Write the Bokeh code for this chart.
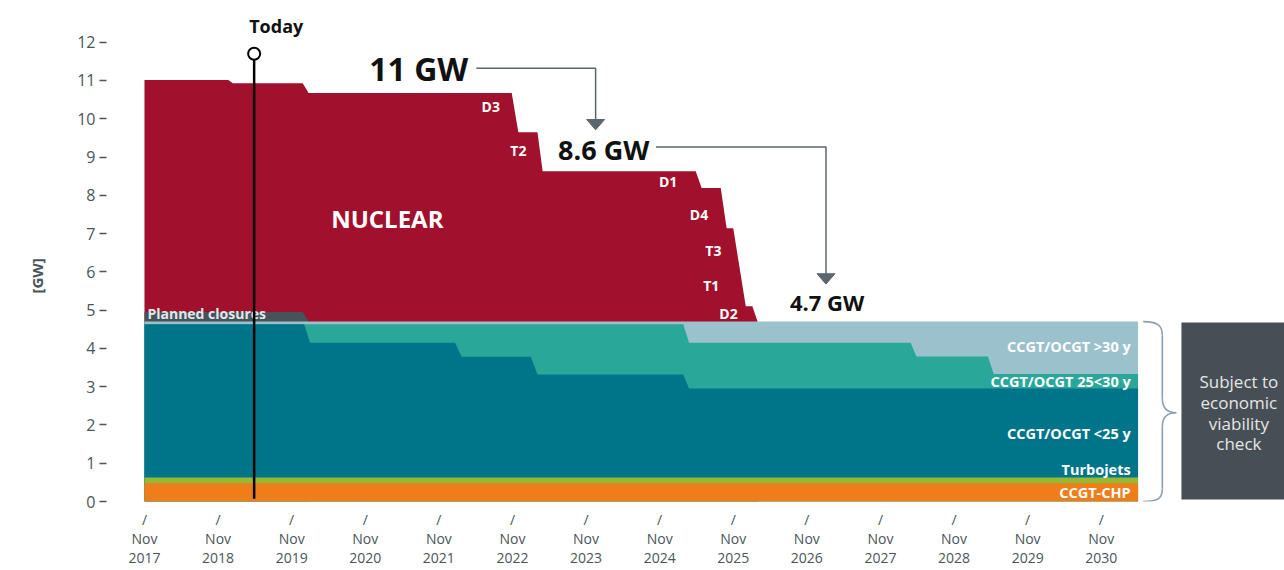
import numpy as np
from bokeh.plotting import figure
from bokeh.models import FixedTicker, Range1d, Title
from bokeh.core.properties import value
from bokeh.embed import file_html
from bokeh.resources import INLINE

# ---------------- data (x = years since Nov 2017, y = cumulative GW) ----------------
years = list(range(2017, 2031))
tick_pos = [y - 2017 for y in years]
tick_labels = [f"/\nNov\n{y}" for y in years]
y_ticks = list(range(0, 13))

nuclear_t = [0, 1.14, 1.20, 2.15, 2.23, 4.99, 5.08, 5.34, 5.41, 7.49, 7.57, 7.83, 7.91, 8.00, 8.17, 8.26, 8.33]
nuclear_top = [11.01, 11.01, 10.93, 10.93, 10.67, 10.67, 9.65, 9.65, 8.63, 8.63, 8.19, 8.19, 7.14, 7.14, 5.10, 5.10, 4.70]

closures_t = [0, 2.15, 2.23]
closures_top = [4.95, 4.95, 4.70]

old30_t = [0, 13.5]
old30_top = [4.70, 4.70]

mid_t = [0, 7.32, 7.40, 10.41, 10.49, 11.46, 11.54, 13.5]
mid_top = [4.63, 4.63, 4.15, 4.15, 3.79, 3.79, 3.33, 3.33]

young_t = [0, 2.17, 2.25, 4.22, 4.31, 5.25, 5.34, 7.32, 7.40, 13.5]
young_top = [4.63, 4.63, 4.15, 4.15, 3.78, 3.78, 3.32, 3.32, 2.95, 2.95]

turbo_t = [0, 13.5]
turbo_top = [0.625, 0.625]

chp_t = [0, 13.5]
chp_top = [0.48, 0.48]

reactor_names = ["D3", "T2", "D1", "D4", "T3", "T1", "D2"]
reactor_x = [4.83, 5.19, 7.24, 7.66, 7.84, 7.81, 8.06]
reactor_y = [10.31, 9.18, 8.36, 7.51, 6.55, 5.64, 4.90]

layer_names = ["CCGT/OCGT >30 y", "CCGT/OCGT 25<30 y", "CCGT/OCGT <25 y", "Turbojets", "CCGT-CHP"]
layer_y = [4.05, 3.14, 1.78, 0.83, 0.23]

today_t = 1.49

# ---------------- colours ----------------
C_NUC = "#a1102c"
C_CLOS = "#46535a"
C_OLD = "#9bc2cc"
C_MID = "#29a899"
C_YOUNG = "#00758a"
C_TURBO = "#95b932"
C_CHP = "#ee7d1a"
C_BOX = "#464f55"
C_AXIS = "#4a555c"
C_ARROW = "#5b666d"
C_BRACE = "#8ca0ae"
FONT = "Open Sans"

p = figure(width=1284, height=570,
           x_range=Range1d(-0.516, 15.49), y_range=Range1d(0, 13.09),
           output_backend="svg", toolbar_location=None,
           min_border_left=105, min_border_right=0, min_border_top=0, min_border_bottom=69)
p.outline_line_color = None
p.xgrid.grid_line_color = None
p.ygrid.grid_line_color = None
p.background_fill_color = "white"

# stacked areas (painted as cumulative totals, top layer first)
for t, top, col in [(nuclear_t, nuclear_top, C_NUC), (closures_t, closures_top, C_CLOS),
                    (old30_t, old30_top, C_OLD), (mid_t, mid_top, C_MID),
                    (young_t, young_top, C_YOUNG), (turbo_t, turbo_top, C_TURBO),
                    (chp_t, chp_top, C_CHP)]:
    p.varea(x=t, y1=np.zeros(len(t)), y2=top, fill_color=col)

# axes
xa = p.xaxis[0]
xa.ticker = FixedTicker(ticks=tick_pos)
xa.major_label_overrides = {k: s for k, s in zip(tick_pos, tick_labels)}
xa.axis_line_color = None
xa.major_tick_line_color = None
xa.minor_tick_line_color = None
xa.major_label_text_font = FONT
xa.major_label_text_font_size = "14px"
xa.major_label_text_color = C_AXIS
xa.major_label_text_line_height = 1.0
xa.major_label_standoff = 2

ya = p.yaxis[0]
ya.ticker = FixedTicker(ticks=y_ticks)
ya.axis_line_color = None
ya.minor_tick_line_color = None
ya.major_tick_in = 0
ya.major_tick_out = 7
ya.major_tick_line_color = C_AXIS
ya.major_tick_line_width = 1.3
ya.major_label_standoff = 4
ya.major_label_text_font = FONT
ya.major_label_text_font_size = "16px"
ya.major_label_text_color = C_AXIS

p.add_layout(Title(text="[GW]", align="left", offset=208, vertical_align="top", standoff=52,
                   text_font=FONT, text_font_size="15px", text_font_style="bold",
                   text_color=C_AXIS), "left")

# text in areas
p.text(x=[3.30], y=[7.39], text=["NUCLEAR"], text_align="center", text_baseline="middle",
       text_font=value(FONT), text_font_size="24px", text_font_style="bold", text_color="white")
p.text(x=reactor_x, y=reactor_y, text=reactor_names, text_align="right", text_baseline="middle",
       text_font=value(FONT), text_font_size="14px", text_font_style="bold", text_color="white")
p.text(x=[0.04], y=[4.90], text=["Planned closures"], text_align="left", text_baseline="middle",
       text_font=value(FONT), text_font_size="14px", text_font_style="bold", text_color="#e3e7e9")
p.text(x=[13.40] * len(layer_names), y=layer_y, text=layer_names, text_align="right", text_baseline="middle",
       text_font=value(FONT), text_font_size="14.5px", text_font_style="bold", text_color="white")

# capacity call-outs and arrows
p.text(x=[4.40], y=[11.32], text=["11 GW"], text_align="right", text_baseline="middle",
       text_font=value(FONT), text_font_size="32px", text_font_style="bold", text_color="#111111")
p.text(x=[6.86], y=[9.19], text=["8.6 GW"], text_align="right", text_baseline="middle",
       text_font=value(FONT), text_font_size="27px", text_font_style="bold", text_color="#111111")
p.text(x=[9.78], y=[5.21], text=["4.7 GW"], text_align="right", text_baseline="middle",
       text_font=value(FONT), text_font_size="22px", text_font_style="bold", text_color="#111111")

p.line(x=[4.51, 6.13, 6.13], y=[11.32, 11.32, 9.97], line_color=C_ARROW, line_width=1.5)
p.line(x=[6.95, 9.26, 9.26], y=[9.26, 9.26, 5.94], line_color=C_ARROW, line_width=1.5)
p.patches(xs=[[6.13 - 0.122, 6.13 + 0.122, 6.13], [9.26 - 0.122, 9.26 + 0.122, 9.26]],
          ys=[[9.98, 9.98, 9.71], [5.95, 5.95, 5.68]], fill_color=C_ARROW, line_color=C_ARROW)

# today marker
p.segment(x0=[today_t], y0=[0.07], x1=[today_t], y1=[11.6], line_color="black", line_width=2.5)
p.scatter(x=[today_t], y=[11.70], marker="circle", size=12, fill_color="white",
          line_color="black", line_width=2)
p.text(x=[1.79], y=[12.42], text=["Today"], text_align="center", text_baseline="middle",
       text_font=value(FONT), text_font_size="18px", text_font_style="bold", text_color="#111111")

# brace
p.bezier(x0=[13.57, 13.83, 14.02, 13.83], y0=[4.70, 2.69, 2.32, 0.34],
         x1=[13.83, 14.02, 13.83, 13.57], y1=[4.33, 2.32, 1.96, 0.0],
         cx0=[13.80, 13.83, 13.92, 13.83], cy0=[4.70, 2.40, 2.32, 0.12],
         cx1=[13.83, 13.92, 13.83, 13.80], cy1=[4.55, 2.32, 2.24, 0.0],
         line_color=C_BRACE, line_width=1.6)
p.segment(x0=[13.83, 13.83], y0=[4.33, 1.96], x1=[13.83, 13.83], y1=[2.69, 0.34],
          line_color=C_BRACE, line_width=1.6)

# viability box
p.quad(left=[14.09], right=[15.6], top=[4.68], bottom=[0.05], fill_color=C_BOX, line_color=None)
p.text(x=[14.87], y=[2.32], text=["Subject to\neconomic\nviability\ncheck"], text_align="center",
       text_baseline="middle", text_line_height=0.9, text_font=value(FONT), text_font_size="17px",
       text_color="#e6e6e6")

open("out.html", "w").write(file_html(p, INLINE))
